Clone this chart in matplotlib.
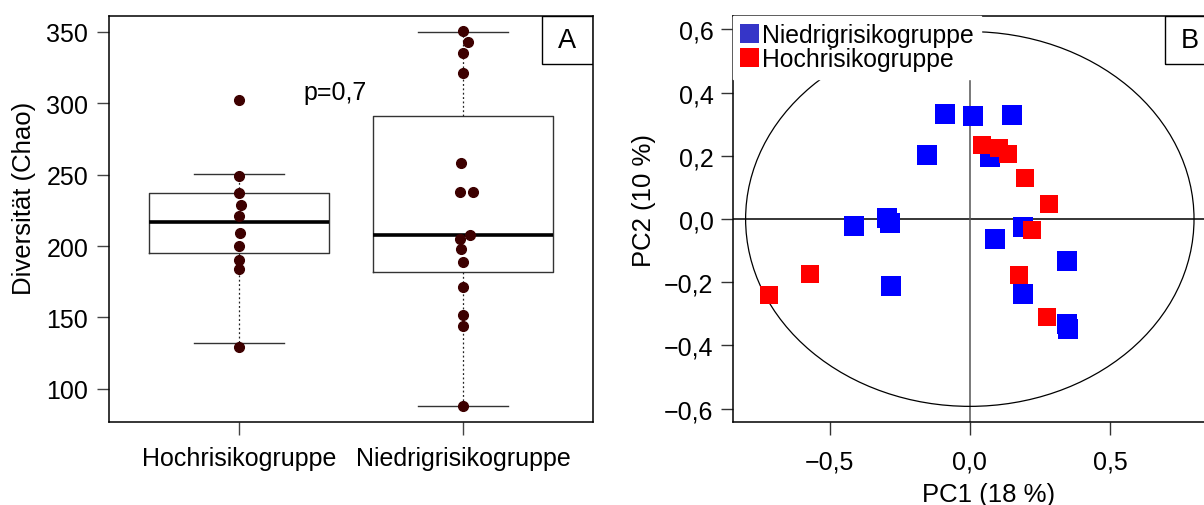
import numpy as np
import matplotlib.pyplot as plt
from matplotlib.patches import Ellipse, Patch, Rectangle

plt.rcParams['font.family'] = ['Liberation Sans', 'DejaVu Sans']

# Panel A: Chao-Diversitaet
gruppen = ['Hochrisikogruppe', 'Niedrigrisikogruppe']
chao_hoch = [302, 249, 237, 229, 221, 209, 200, 190, 184, 129]
chao_niedrig = [351, 343, 335, 321, 258, 238, 238, 208, 205, 198, 189, 171, 152, 144, 88]
# seitliche Verschiebung der Punkte (beeswarm)
dx_hoch = [0, 0, 0, 0.01, 0, 0.005, 0, 0, 0, 0]
dx_niedrig = [0, 0.022, 0, 0, -0.009, -0.012, 0.043, 0.031, -0.015, -0.009, 0, 0, 0, 0, 0]
# Boxplot-Kennwerte
q1 = [194.8, 182.0]
median = [217.1, 207.8]
q3 = [237.4, 290.8]
whisk_lo = [132.1, 88.0]
whisk_hi = [250.5, 350.0]
yticks_a = [100, 150, 200, 250, 300, 350]

# Panel B: PCA
pc1_niedrig = [-0.089, 0.010, 0.149, -0.151, 0.071, -0.413, -0.294, -0.286, -0.280,
               0.089, 0.190, 0.345, 0.190, 0.345, 0.349]
pc2_niedrig = [0.333, 0.327, 0.330, 0.201, 0.195, -0.021, 0.002, -0.013, -0.213,
               -0.063, -0.026, -0.132, -0.238, -0.333, -0.349]
pc1_hoch = [-0.718, -0.569, 0.045, 0.104, 0.137, 0.196, 0.283, 0.221, 0.175, 0.274]
pc2_hoch = [-0.240, -0.174, 0.235, 0.225, 0.206, 0.129, 0.048, -0.034, -0.176, -0.310]
ellipse_breite = 1.6
ellipse_hoehe = 1.186
ticks_pc1 = [-0.5, 0.0, 0.5]
ticks_pc2 = [-0.6, -0.4, -0.2, 0.0, 0.2, 0.4, 0.6]


def komma(v):
    s = f"{v:.1f}".replace('.', ',')
    return s.replace('-', '\u2212')


fig = plt.figure(figsize=(12.04, 5.06), dpi=100)
axA = fig.add_axes([109 / 1204, 83 / 506, 484 / 1204, 406 / 506])
axB = fig.add_axes([733 / 1204, 83 / 506, 484 / 1204, 406 / 506])

# ---------- A ----------
stats = []
for i in range(2):
    stats.append({'med': median[i], 'q1': q1[i], 'q3': q3[i],
                  'whislo': whisk_lo[i], 'whishi': whisk_hi[i], 'fliers': []})
axA.bxp(stats, positions=[1, 2], widths=0.8, capwidths=0.4, showfliers=False,
        boxprops=dict(color='#333333', lw=1.0),
        medianprops=dict(color='black', lw=2.6),
        whiskerprops=dict(color='#222222', lw=0.9, ls=(0, (1.5, 2))),
        capprops=dict(color='#333333', lw=1.0))
axA.plot(1 + np.array(dx_hoch), chao_hoch, 'o', color='#3d0000', ms=7, zorder=3)
axA.plot(2 + np.array(dx_niedrig), chao_niedrig, 'o', color='#3d0000', ms=7, zorder=3)
axA.text(1.43, 308, 'p=0,7', fontsize=18, ha='center', va='center')
axA.set_xlim(0.42, 2.58)
axA.set_ylim(76.7, 361.2)
axA.set_xticks([1, 2])
axA.set_xticklabels(gruppen)
axA.set_yticks(yticks_a)
axA.tick_params(axis='both', labelsize=18, length=9, color='#444444', width=1)
axA.tick_params(axis='x', pad=8.5)
axA.tick_params(axis='y', pad=6)
axA.set_ylabel('Diversität (Chao)', fontsize=18.5, va='center')
axA.yaxis.set_label_coords(-0.176, 0.554)
axA.add_patch(Rectangle((0.895, 0.882), 0.105, 0.118, transform=axA.transAxes,
                        fill=False, lw=1, ec='black'))
axA.text(0.946, 0.941, 'A', transform=axA.transAxes, fontsize=19.5, ha='center', va='center')
for s in axA.spines.values():
    s.set_linewidth(1.1)

# ---------- B ----------
axB.axhline(0, color='black', lw=1.1, zorder=1)
axB.axvline(0, color='#555555', lw=1.1, zorder=1)
axB.add_patch(Ellipse((0, 0), ellipse_breite, ellipse_hoehe, fill=False, lw=0.9,
                      ec='black', zorder=1))
axB.plot(pc1_niedrig, pc2_niedrig, 's', color='#0000ff', ms=14.4, zorder=3, mew=0)
axB.plot(pc1_hoch, pc2_hoch, 's', color='#ff0000', ms=13, zorder=4, mew=0)
axB.set_xlim(-0.845, 0.882)
axB.set_ylim(-0.6425, 0.6425)
axB.set_xticks(ticks_pc1)
axB.set_xticklabels([komma(v) for v in ticks_pc1])
axB.set_yticks(ticks_pc2)
axB.set_yticklabels([komma(v) for v in ticks_pc2])
axB.tick_params(axis='both', labelsize=18, length=9, color='#333333', width=1)
axB.tick_params(axis='x', pad=11)
axB.tick_params(axis='y', pad=5)
axB.set_ylabel('PC2 (10 %)', fontsize=18.5, va='center')
axB.yaxis.set_label_coords(-0.184, 0.547)
axB.set_xlabel('PC1 (18 %)', fontsize=18.5, va='baseline')
axB.xaxis.set_label_coords(0.529, -0.195)
for s in axB.spines.values():
    s.set_linewidth(1.1)
axB.add_patch(Rectangle((0.893, 0.882), 0.107, 0.118, transform=axB.transAxes,
                        fill=False, lw=1, ec='black', zorder=6))
axB.text(0.944, 0.941, 'B', transform=axB.transAxes, fontsize=19.5, ha='center', va='center')

handles = [Patch(facecolor='#3535c8', edgecolor='none'),
           Patch(facecolor='#ff0000', edgecolor='none')]
leg = axB.legend(handles, ['Niedrigrisikogruppe', 'Hochrisikogruppe'], loc='upper left',
                 bbox_to_anchor=(0, 1), borderaxespad=0, frameon=True, fancybox=False,
                 edgecolor='white', facecolor='white', framealpha=1, fontsize=17.8,
                 handlelength=0.75, handleheight=0.8, handletextpad=0.12,
                 labelspacing=0.0, borderpad=0.3)

fig.savefig('out.png', dpi=100)
